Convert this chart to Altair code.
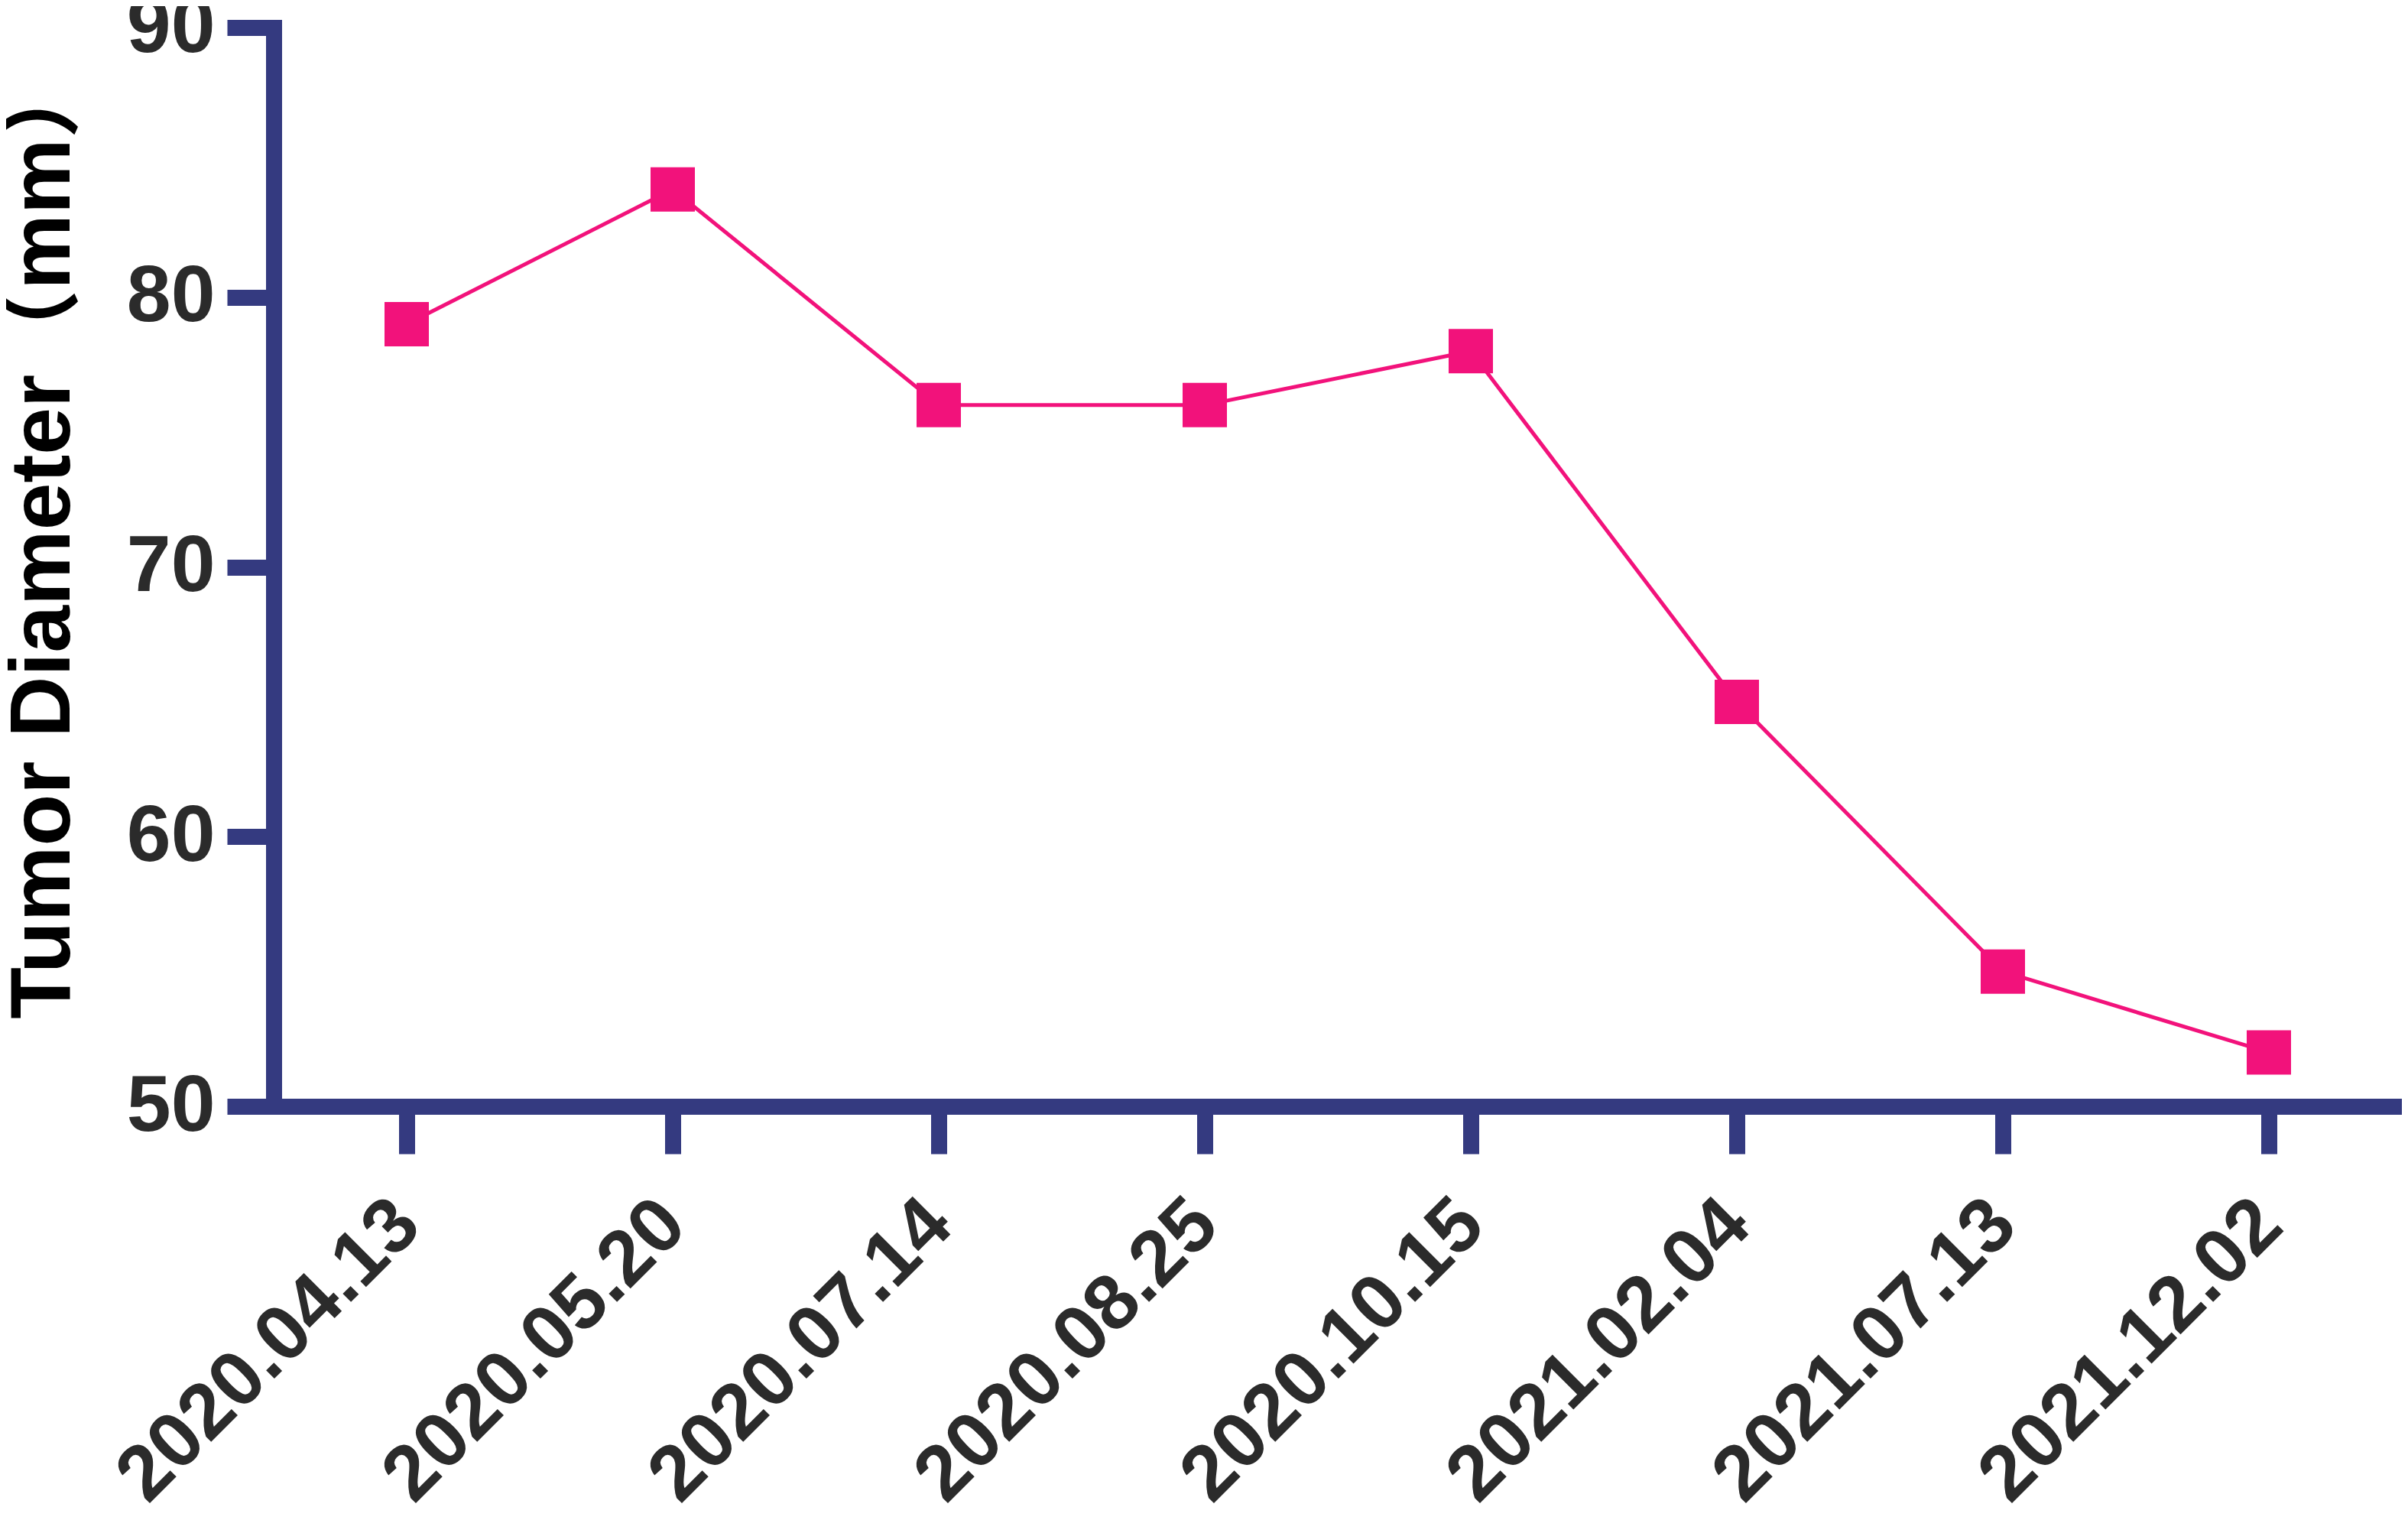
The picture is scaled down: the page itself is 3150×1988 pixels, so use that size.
import altair as alt
import pandas as pd

dates = ["2020.04.13", "2020.05.20", "2020.07.14", "2020.08.25",
         "2020.10.15", "2021.02.04", "2021.07.13", "2021.12.02"]
diameter = [79, 84, 76, 76, 78, 65, 55, 52]
y_ticks = [50, 60, 70, 80, 90]

df = pd.DataFrame({"date": dates, "diameter": diameter})

NAVY = "#343A80"
PINK = "#F2127B"
FONT = "Liberation Sans"

x = alt.X(
    "date:N", sort=dates,
    scale=alt.Scale(type="point", padding=0.5),
    axis=alt.Axis(
        title=None, labelAngle=315, labelAlign="right", labelBaseline="middle",
        labelFontSize=102, labelFont=FONT, labelFontWeight="bold",
        labelColor="#2B2B2B", labelPadding=76, labelLimit=2000, labelOverlap=False,
        tickSize=62, tickWidth=21, tickColor=NAVY,
        domainColor=NAVY, domainWidth=21, grid=False,
    ),
)
y = alt.Y(
    "diameter:Q",
    scale=alt.Scale(domain=[50, 90], nice=False, zero=False),
    axis=alt.Axis(
        values=y_ticks, title="Tumor Diameter（mm）",
        titleFont=FONT + ", Noto Sans CJK SC", titleFontSize=111, titleFontWeight="bold",
        titleColor="#000000", titlePadding=52, titleLimit=3000, titleY=665,
        labelFontSize=104, labelFont=FONT, labelFontWeight="bold",
        labelColor="#2B2B2B", labelPadding=16,
        tickSize=61, tickWidth=21, tickColor=NAVY,
        domainColor=NAVY, domainWidth=21, domainCap="square", grid=False,
    ),
)

line = alt.Chart(df).mark_line(color=PINK, strokeWidth=5).encode(x=x, y=y)
pts = alt.Chart(df).mark_square(color=PINK, size=3364, opacity=1).encode(x=x, y=y)

chart = (
    alt.layer(line, pts)
    .properties(
        width=2784, height=1411,
        autosize=alt.AutoSizeParams(type="none"),
        padding={"left": 350, "top": 28, "right": 0, "bottom": 533},
        background="white",
    )
    .configure_view(stroke=None)
)

chart.save("out.html", embed_options={"renderer": "svg", "actions": False})
